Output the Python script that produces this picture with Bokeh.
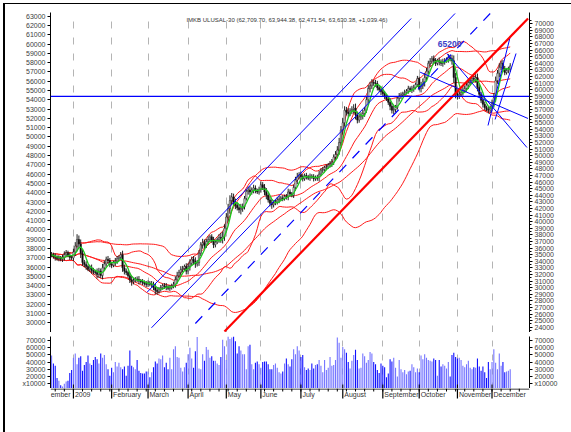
import numpy as np
import pandas as pd
from bokeh.plotting import figure
from bokeh.models import (Range1d, LinearAxis, FixedTicker, Span, Label, Grid,
                          ColumnDataSource, NumeralTickFormatter, Spacer)
from bokeh.core.properties import value
from bokeh.layouts import column
from bokeh.embed import file_html
from bokeh.resources import INLINE

# ---------------- data ----------------
# daily closes, thousands (mid Dec 2008 .. mid Dec 2009)
close_k = [
    35.0, 34.7, 34.6, 34.4, 34.5, 34.3, 34.6, 35.0, 35.3, 34.9, 34.6, 34.5,
    35.4, 36.3, 37.3, 36.6, 35.2, 33.8, 33.5, 33.2, 32.8, 33.0, 32.6, 32.4, 32.3, 32.0, 32.5, 31.85, 33.0, 33.6, 34.3, 34.1, 33.5,
    33.4, 33.8, 34.0, 34.4, 34.6, 35.0, 33.0, 32.5, 32.3, 31.8, 31.2, 30.9, 31.1, 31.3, 31.25, 31.0, 30.9, 30.8, 30.6, 30.5,
    30.7, 30.5, 30.5, 30.0, 29.6, 29.4, 29.8, 30.0, 30.3, 30.2, 30.1, 29.9, 30.0, 30.3, 30.5, 31.2, 31.8, 32.3, 32.75, 32.9, 33.2, 32.5,
    33.2, 33.7, 34.3, 34.0, 33.6, 33.8, 35.2, 36.5, 36.8, 36.4, 37.0, 37.3, 37.7, 37.2, 36.5, 36.9, 37.3, 37.6, 37.5, 37.7, 39.0,
    40.7, 42.0, 43.2, 43.75, 42.9, 42.5, 42.1, 41.8, 42.0, 42.25, 43.5, 44.6, 44.8, 44.5, 44.8, 45.1, 44.7, 44.5, 44.9,
    45.6, 45.2, 44.5, 44.0, 43.3, 42.8, 42.55, 42.8, 43.0, 43.3, 43.4, 43.6, 43.5, 43.8, 43.75, 44.5, 44.2, 44.0, 45.2, 46.3, 46.8, 47.1,
    46.8, 46.5, 47.0, 46.8, 46.6, 46.9, 46.8, 46.5, 46.7, 46.6, 47.2, 47.8, 47.9, 48.2, 48.3, 48.6, 48.8, 49.0, 49.8, 50.2, 50.85, 52.0, 53.9,
    55.0, 56.9, 56.6, 56.4, 56.8, 57.0, 57.2, 56.2, 55.4, 55.9, 56.1, 56.4, 56.9, 58.5, 60.2, 60.6, 61.1, 61.0, 60.95, 60.3, 60.0, 59.7,
    59.4, 59.0, 58.6, 58.1, 57.5, 56.9, 57.0, 57.3, 58.7, 59.0, 59.2, 59.4, 59.6, 59.8, 60.2, 60.0, 60.1, 60.35, 60.8, 61.7,
    60.2, 60.6, 61.2, 61.85, 62.8, 64.0, 64.3, 64.7, 64.4, 64.0, 64.4, 64.2, 64.0, 64.2, 64.4, 64.6, 64.9, 64.7, 64.4, 61.85, 59.4,
    59.1, 59.3, 59.6, 59.9, 60.2, 60.7, 61.1, 61.4, 61.7, 61.6, 61.85, 60.35, 59.3, 58.4, 57.8, 57.3, 57.0, 56.9, 57.2,
    58.0, 58.8, 61.4, 62.5, 63.4, 64.0, 63.2, 62.6, 62.9, 63.1, 63.63,
]
# daily wick length, hundreds
wick_h = [
    4, 3, 5, 3, 4, 3, 4, 5, 4, 3, 4, 3,
    5, 6, 8, 6, 7, 5, 4, 5, 3, 4, 5, 4, 3, 6, 5, 4, 6, 5, 4, 5, 4,
    4, 3, 5, 4, 3, 4, 6, 5, 4, 3, 5, 6, 4, 3, 4, 5, 3, 4, 3, 4,
    4, 3, 5, 4, 6, 5, 3, 4, 3, 4, 5, 3, 4, 3, 4, 5, 6, 4, 5, 4, 3, 5,
    5, 6, 4, 5, 6, 4, 5, 4, 6, 5, 4, 5, 3, 4, 5, 4, 3, 5, 7, 8, 6,
    6, 7, 8, 6, 5, 6, 4, 5, 7, 5, 4, 3, 5, 6, 4, 5, 4, 3, 4,
    5, 4, 5, 6, 4, 5, 6, 4, 3, 4, 5, 3, 4, 3, 4, 5, 4, 3, 4, 5, 6, 4,
    5, 4, 3, 4, 3, 4, 3, 4, 3, 4, 5, 3, 4, 3, 4, 3, 4, 5, 4, 5, 6, 7, 6,
    7, 6, 5, 6, 4, 5, 6, 7, 5, 4, 5, 6, 5, 4, 5, 6, 5, 4, 5, 4, 3, 5,
    5, 4, 3, 4, 6, 5, 6, 4, 3, 5, 4, 3, 4, 3, 4, 3, 5, 4, 3, 4,
    3, 6, 5, 7, 5, 4, 5, 4, 5, 4, 3, 5, 4, 5, 4, 3, 5, 4, 6, 8, 7,
    6, 5, 4, 5, 4, 5, 6, 4, 3, 4, 5, 6, 5, 4, 5, 4, 3, 5, 4,
    5, 7, 6, 5, 6, 4, 5, 4, 3, 4, 4,
]
# daily volume, thousands
volume_k = [
    49, 38, 35, 18, 14, 8, 6, 10, 13, 14, 25, 29,
    46, 52, 37, 46, 48, 28, 36, 40, 49, 38, 36, 43, 47, 44, 38, 52, 46, 50, 37, 30, 21,
    32, 26, 40, 34, 39, 33, 30, 34, 21, 35, 56, 35, 33, 30, 43, 28, 25, 24, 24, 27,
    27, 19, 26, 33, 41, 38, 45, 44, 49, 33, 39, 30, 46, 30, 58, 62, 47, 46, 32, 27, 33, 39,
    51, 60, 45, 32, 55, 75, 31, 30, 51, 42, 61, 57, 46, 48, 42, 42, 38, 36, 47, 71, 62,
    43, 76, 72, 74, 76, 69, 52, 62, 56, 51, 51, 30, 62, 64, 37, 30, 39, 41, 37,
    32, 40, 41, 41, 37, 30, 30, 36, 38, 32, 26, 24, 27, 38, 45, 37, 34, 44, 58, 51, 62, 56,
    47, 50, 33, 29, 31, 29, 38, 31, 36, 37, 43, 35, 26, 43, 29, 32, 47, 35, 36, 43, 74, 67, 46,
    61, 58, 53, 40, 31, 42, 50, 57, 43, 31, 32, 52, 48, 39, 43, 54, 52, 40, 37, 29, 25, 38,
    35, 33, 19, 24, 44, 41, 46, 32, 20, 43, 30, 26, 29, 23, 27, 28, 37, 33, 26, 31,
    26, 49, 44, 51, 46, 43, 42, 41, 45, 43, 21, 43, 34, 37, 35, 31, 40, 20, 50, 53, 47,
    45, 46, 43, 35, 33, 37, 42, 32, 30, 33, 32, 45, 34, 28, 34, 26, 18, 40, 30,
    40, 58, 39, 30, 52, 35, 40, 26, 27, 28, 30,
]
assert len(close_k) == len(wick_h) == len(volume_k)

month_names = ["2009", "February", "March", "April", "May", "June", "July",
               "August", "September", "October", "November", "December"]
month_start = [12, 33, 53, 75, 96, 115, 137, 160, 182, 202, 223, 242]
clipped_label = (-0.5, "ember")

left_ticks = list(range(30000, 63001, 1000))
right_ticks = list(range(24000, 70001, 1000))
right_minor = list(range(23500, 70501, 500))
vol_ticks = list(range(10000, 70001, 10000))
week_ticks = list(range(2, 262, 5))

# trend lines drawn on the chart: ([x0, x1], [y0, y1])
chan_a = ([52.5, 197.6], [29311, 70803])
chan_b = ([54.9, 221.7], [23914, 71561])
chan_dash = ([79.0, 241.0], [24565, 71561])
red_trend = ([95.0, 261.8], [23353, 70803])
down_1 = ([202.5, 261.8], [62663, 55643])
down_2 = ([217.2, 261.2], [65497, 51247])
steep_1 = ([239.8, 251.9], [54582, 67923])
steep_2 = ([243.7, 255.2], [55492, 65497])
support_level = 59000
peak_label = (212.2, 67000, "65200")
title_text = "IMKB ULUSAL-30 (62,709.70, 63,944.38, 62,471.54, 63,630.38, +1,039.46)"

# ---------------- derived ----------------
idx = np.arange(len(close_k))
close = np.array(close_k) * 1000.0
opn = np.concatenate([[close[0]], close[:-1]])
wick = np.array(wick_h) * 100.0
high = np.maximum(opn, close) + wick
low = np.minimum(opn, close) - wick
up = close >= opn
s = pd.Series(close)
ma5 = s.rolling(5, min_periods=1).mean()
m20 = s.rolling(20, min_periods=1).mean()
d20 = s.rolling(20, min_periods=1).std(ddof=0)
m50 = s.rolling(50, min_periods=1).mean()
d50 = s.rolling(50, min_periods=1).std(ddof=0)
bands = [m20 + 2 * d20, m20 - 2 * d20, m20, m50 + 2 * d50, m50 - 2 * d50, m50]

FONT = "Liberation Sans"
GRID_C = "#b4b4b4"
W = 571
MBL = 50
MBR = 42


def style_axis(ax):
    ax.axis_line_color = "black"
    ax.major_tick_line_color = "black"
    ax.minor_tick_line_color = "black"
    ax.major_tick_out = 3
    ax.major_tick_in = 0
    ax.minor_tick_out = 2
    ax.minor_tick_in = 0
    ax.major_label_text_font_size = "7px"
    ax.major_label_text_font = FONT
    ax.major_label_text_color = "#404040"
    ax.major_label_standoff = 2


xr = Range1d(-0.6, 262.6)
common = dict(output_backend="svg", toolbar_location=None, outline_line_color=None,
              border_fill_color=None, min_border_left=MBL, min_border_right=MBR)

# ---------------- price panel ----------------
p = figure(width=W, height=332, x_range=xr, y_range=Range1d(23200, 71710),
           x_axis_location=None, y_axis_location="right",
           min_border_top=12, min_border_bottom=0, **common)
p.grid.visible = False
p.add_layout(Grid(dimension=0, ticker=FixedTicker(ticks=month_start),
                  grid_line_color=GRID_C, grid_line_dash="7 9"))
p.yaxis.ticker = FixedTicker(ticks=right_ticks, minor_ticks=right_minor)
p.yaxis.formatter = NumeralTickFormatter(format="0")
style_axis(p.yaxis[0])

p.extra_y_ranges = {"lft": Range1d(28953, 63398)}
lax = LinearAxis(y_range_name="lft", ticker=FixedTicker(ticks=left_ticks),
                 formatter=NumeralTickFormatter(format="0"))
style_axis(lax)
p.add_layout(lax, "left")

for b in bands:
    p.line(idx, b.values, line_color="#ff1a1a", line_width=1)

src = ColumnDataSource(dict(x=idx, high=high, low=low,
                            top=np.maximum(opn, close), bottom=np.minimum(opn, close),
                            fill=["white" if u else "black" for u in up]))
p.segment("x", "low", "x", "high", source=src, line_color="#202020", line_width=1)
p.vbar(x="x", width=0.75, top="top", bottom="bottom", fill_color="fill",
       line_color="#202020", line_width=0.6, source=src)
p.line(idx, ma5.values, line_color="#1ec81e", line_width=1.3)

for ln in (chan_a, chan_b, down_1, down_2, steep_1, steep_2):
    p.line(ln[0], ln[1], line_color="#0000ff", line_width=1)
p.line(chan_dash[0], chan_dash[1], line_color="#0000ff", line_width=1.2, line_dash="10 9")
p.line(red_trend[0], red_trend[1], line_color="#ff0000", line_width=2.2)
p.add_layout(Span(location=support_level, dimension="width", line_color="#0000ff", line_width=1.2))

p.add_layout(Label(x=74.1, y=70500, text=title_text, text_font=FONT, text_font_size="6px",
                   text_color="#333333", text_baseline="middle"))
p.add_layout(Label(x=peak_label[0], y=peak_label[1], text=peak_label[2], text_font=FONT,
                   text_font_size="8.5px", text_font_style="bold", text_color="#3c3cc8",
                   text_baseline="middle"))

# ---------------- volume panel ----------------
VBOT = 3333
v = figure(width=W, height=56, x_range=xr, y_range=Range1d(VBOT, 75556),
           x_axis_location=None, min_border_top=4, min_border_bottom=0, **common)
v.grid.visible = False
v.add_layout(Grid(dimension=0, ticker=FixedTicker(ticks=month_start),
                  grid_line_color=GRID_C, grid_line_dash="6 8"))
vol = np.array(volume_k) * 1000.0
vsrc = ColumnDataSource(dict(x=idx, top=vol,
                             color=["#7474ff" if u else "#1010ff" for u in up]))
v.vbar(x="x", width=0.6, top="top", bottom=VBOT, fill_color="color", line_color=None, source=vsrc)
# inner part of the month tick marks
v.segment(x0=month_start, y0=VBOT, x1=month_start, y1=VBOT + 5500, line_color="black", line_width=1)

vol_over = {10000: "x10000"}
v.yaxis.ticker = FixedTicker(ticks=vol_ticks)
v.yaxis.formatter = NumeralTickFormatter(format="0")
v.yaxis.major_label_overrides = vol_over
style_axis(v.yaxis[0])
rax = LinearAxis(ticker=FixedTicker(ticks=vol_ticks), formatter=NumeralTickFormatter(format="0"),
                 major_label_overrides=vol_over)
style_axis(rax)
v.add_layout(rax, "right")

# ---------------- date axis strip ----------------
lab = figure(width=W, height=12, x_range=xr, y_range=Range1d(-12, 0),
             x_axis_location=None, y_axis_location=None,
             min_border_top=0, min_border_bottom=0, **common)
lab.grid.visible = False
lab.add_layout(Span(location=-0.5, dimension="width", line_color="black", line_width=1))
lab.segment(x0=month_start, y0=0, x1=month_start, y1=-10, line_color="black", line_width=1.2)
lab.segment(x0=week_ticks, y0=0, x1=week_ticks, y1=-3, line_color="black", line_width=1)
lsrc = ColumnDataSource(dict(x=[clipped_label[0]] + [m + 0.8 for m in month_start],
                             t=[clipped_label[1]] + month_names))
lab.text(x="x", y=-5.5, text="t", source=lsrc, text_font=value(FONT), text_font_size="7px",
         text_color="#333333", text_baseline="middle", text_align="left")

layout = column(p, v, lab, Spacer(width=W, height=32),
                styles={"box-shadow": "inset 3px 3px 0 0 #ffffff, inset 5px 4px 0 0 #000000"})
open("out.html", "w").write(file_html(layout, INLINE))
